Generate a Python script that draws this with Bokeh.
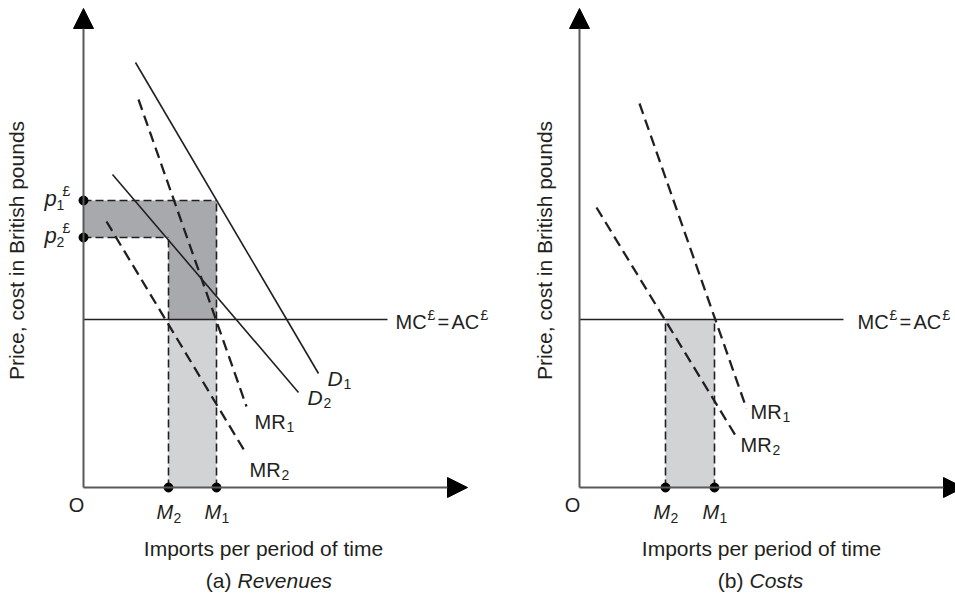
import math
from bokeh.plotting import figure
from bokeh.layouts import row
from bokeh.models import Range1d, Arrow, NormalHead
from bokeh.core.properties import value
from bokeh.embed import file_html
from bokeh.resources import INLINE

# ---------------- data (quantity of imports, price/cost in GBP units) ----------------
p_prices = [71.75, 62.5]            # p1£, p2£
mc_level = 42.0                     # MC£ = AC£
m_rev = [21.25, 33.25]              # M2, M1 in panel (a)
m_cost = [21.5, 33.75]              # M2, M1 in panel (b)

d1_q, d1_p = [13.0, 58.75], [106.25, 28.5]
d2_q, d2_p = [7.25, 53.75], [78.25, 23.75]
mr1_rev_q, mr1_rev_p = [13.75, 40.75], [97.0, 20.25]
mr2_rev_q, mr2_rev_p = [5.75, 40.5], [66.5, 8.75]
mr1_cost_q, mr1_cost_p = [15.0, 41.75], [96.0, 19.75]
mr2_cost_q, mr2_cost_p = [4.25, 39.0], [70.0, 13.0]

mc_end_rev, mc_end_cost = 76.0, 66.0
axis_q_max, axis_p_max = 96.0, 119.75

x_title = "Imports per period of time"
y_title = "Price, cost in British pounds"

# ---------------- styling ----------------
FONT = "Liberation Sans"
INK = "#231f20"
AXIS = "#58595b"
DARK = "#a7a9ac"
LIGHT = "#d1d3d4"
PX = 4.0          # pixels per data unit
H = 594
Y_TOP = 121.75
BASE_FIX = -6     # alphabetic baseline correction (px)


def make_fig(width, q_left):
    p = figure(width=width, height=H,
               x_range=Range1d(q_left, q_left + width / PX),
               y_range=Range1d(Y_TOP - H / PX, Y_TOP),
               output_backend="svg", toolbar_location=None,
               x_axis_location=None, y_axis_location=None,
               min_border=0, title=None)
    p.outline_line_color = None
    p.grid.visible = False
    p.background_fill_color = "white"
    p.border_fill_color = "white"
    return p


def put(p, x, y, s, size, dx=0, dy=0, style="normal", align="left",
        baseline="alphabetic", angle=0.0):
    if baseline == "alphabetic":
        dy = dy + BASE_FIX
    p.text(x=[x], y=[y], text=[s], x_offset=dx, y_offset=dy, angle=angle,
           text_font=value(FONT), text_font_size=f"{size}px",
           text_font_style=style, text_align=align, text_baseline=baseline,
           text_color=INK)


def sub_label(p, x, y, main, sub, dx, dy, size=20, sub_size=14, style="normal", main_w=31):
    put(p, x, y, main, size, dx, dy, style)
    put(p, x, y, sub, sub_size, dx + main_w + 1, dy + 5)


def mc_label(p, x, y, dx):
    put(p, x, y, "MC", 20, dx, 8)
    put(p, x, y, "£", 14, dx + 32, 1)
    put(p, x, y, "=", 20, dx + 42, 8)
    put(p, x, y, "AC", 20, dx + 56, 8)
    put(p, x, y, "£", 14, dx + 85, 1)


def common(p, m2, m1, mc_end, mr1, mr2, mr1_off, mr2_off, title_q, cap_main, cap_it,
           cap_dx, ylab_q):
    # MC = AC line
    p.line([0, mc_end], [mc_level, mc_level], line_color=INK, line_width=1.3)
    # MR curves (dashed)
    for (qq, pp) in (mr1, mr2):
        p.line(qq, pp, line_color=INK, line_width=2.3, line_dash="11 6")
    # axes with arrow heads
    p.add_layout(Arrow(end=NormalHead(size=20, fill_color="black", line_color="black"),
                       x_start=0, y_start=0, x_end=axis_q_max, y_end=0,
                       line_color=AXIS, line_width=2))
    p.add_layout(Arrow(end=NormalHead(size=20, fill_color="black", line_color="black"),
                       x_start=0, y_start=0, x_end=0, y_end=axis_p_max,
                       line_color=AXIS, line_width=2))
    # dots on the quantity axis
    p.scatter([m2, m1], [0, 0], size=9, color="black")
    # labels
    put(p, 0, 0, "O", 20, -7, 23, align="center")
    for m, s in ((m2, "2"), (m1, "1")):
        put(p, m, 0, "M", 20, -12, 30, style="italic")
        put(p, m, 0, s, 14, 5, 36)
    sub_label(p, mr1[0][1], mr1[1][1], "MR", "1", mr1_off[0], mr1_off[1])
    sub_label(p, mr2[0][1], mr2[1][1], "MR", "2", mr2_off[0], mr2_off[1])
    put(p, title_q, 0, x_title, 21, 0, 67, align="center")
    put(p, title_q, 0, cap_main, 21, cap_dx[0], 99, align="right")
    put(p, title_q, 0, cap_it, 21, cap_dx[1], 99, style="italic")
    put(p, ylab_q, 59.25, y_title, 21, align="center", baseline="middle",
        angle=math.pi / 2)


# ---------------- panel (a) Revenues ----------------
pa = make_fig(500, -20.75)
m2, m1 = m_rev
p1, p2 = p_prices
pa.patch([0, m1, m1, m2, m2, 0], [p1, p1, mc_level, mc_level, p2, p2],
         fill_color=DARK, line_color=None)
pa.quad(left=[m2], right=[m1], bottom=[0], top=[mc_level], fill_color=LIGHT, line_color=None)
# dashed guides
pa.line([0, m1], [p1, p1], line_color=INK, line_width=1.6, line_dash="8 4")
pa.line([0, m2], [p2, p2], line_color=INK, line_width=1.6, line_dash="8 4")
pa.line([m1, m1], [0, p1], line_color=INK, line_width=1.6, line_dash="8 4")
pa.line([m2, m2], [0, p2], line_color=INK, line_width=1.6, line_dash="8 4")
# demand curves
pa.line(d1_q, d1_p, line_color=INK, line_width=1.6)
pa.line(d2_q, d2_p, line_color=INK, line_width=1.6)
common(pa, m2, m1, mc_end_rev,
       (mr1_rev_q, mr1_rev_p), (mr2_rev_q, mr2_rev_p), (8, 21), (4, 23),
       45.0, "(a)", "Revenues", (-32, -26), -16.75)
pa.scatter([0, 0], [p1, p2], size=9, color="black")
sub_label(pa, d1_q[1], d1_p[1], "D", "1", 9, 11, size=21, style="italic", main_w=15)
sub_label(pa, d2_q[1], d2_p[1], "D", "2", 9, 11, size=21, style="italic", main_w=15)
for pv, s in ((p1, "1"), (p2, "2")):
    put(pa, 0, pv, "p", 22, -39, 4, style="italic")
    put(pa, 0, pv, s, 14, -27, 10)
    put(pa, 0, pv, "£", 14, -21, -4)
mc_label(pa, mc_end_rev, mc_level, 8)

# ---------------- panel (b) Costs ----------------
pb = make_fig(455, -19.75)
m2b, m1b = m_cost
pb.quad(left=[m2b], right=[m1b], bottom=[0], top=[mc_level], fill_color=LIGHT, line_color=None)
pb.line([m1b, m1b], [0, mc_level], line_color=INK, line_width=1.6, line_dash="8 4")
pb.line([m2b, m2b], [0, mc_level], line_color=INK, line_width=1.6, line_dash="8 4")
common(pb, m2b, m1b, mc_end_cost,
       (mr1_cost_q, mr1_cost_p), (mr2_cost_q, mr2_cost_p), (4, 9), (5, 15),
       45.5, "(b)", "Costs", (-18, -12), -8.75)
mc_label(pb, mc_end_cost, mc_level, 14)

layout = row(pa, pb)
open("out.html", "w").write(file_html(layout, INLINE))
